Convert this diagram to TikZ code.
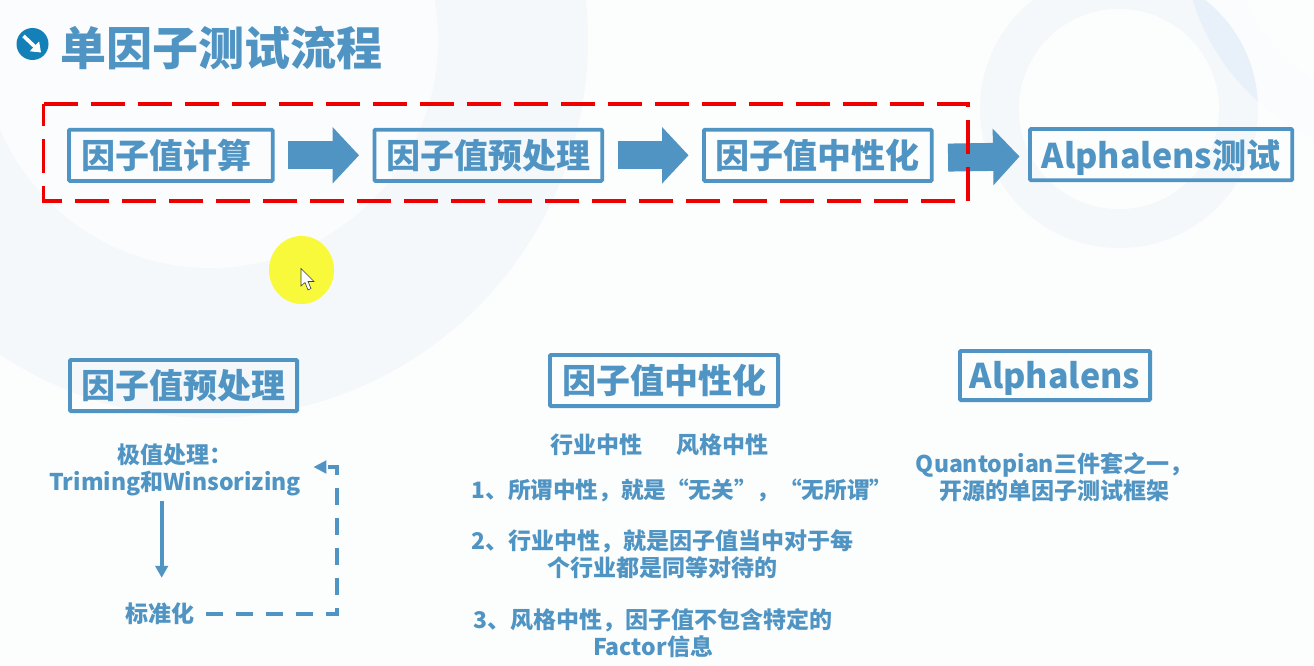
\documentclass[tikz,border=0pt]{standalone}
\usepackage{xcolor}
\usepackage{fontspec}
\setmainfont{Noto Sans CJK SC}
\usepackage{tikz}
\usetikzlibrary{shapes,arrows.meta,positioning}

\definecolor{slideblue}{HTML}{4F94C3}
\definecolor{iconblue}{HTML}{1380B8}
\definecolor{framered}{HTML}{EE0000}
\definecolor{pagebg}{HTML}{FCFDFD}
\definecolor{ringbg}{HTML}{F5F8FB}
\definecolor{innerbg}{HTML}{FBFCFD}
\definecolor{lensbg}{HTML}{E8F0FA}
\definecolor{markyellow}{HTML}{F9F93C}

\begin{document}
\begin{tikzpicture}[x=1pt, y=-1pt, node distance=98pt]
    % Define styles
    \tikzstyle{stepbox} = [rectangle, rounded corners=1pt, draw=slideblue, line width=3.8pt, text=slideblue, inner sep=0pt, minimum height=51.2pt, text centered, font=\fontsize{34}{40}\selectfont\bfseries]
    \tikzstyle{bodytext} = [text=slideblue, inner sep=0pt, align=center, font=\fontsize{23}{27}\selectfont\bfseries]
    \tikzstyle{blockarrow} = [draw=slideblue, line width=28pt, -{Triangle[length=26.5pt,width=55pt]}, shorten <=13.5pt, shorten >=13.5pt]

    \useasboundingbox (0,0) rectangle (1314,666);
    \clip (0,0) rectangle (1314,666);

    % Background
    \fill[pagebg] (0,0) rectangle (1314,666);
    \fill[ringbg] (210,40) circle [radius=378pt];
    \fill[innerbg] (210,40) circle [radius=228pt];
    \fill[ringbg] (1119,109) circle [radius=139pt];
    \fill[pagebg] (1119,109) circle [radius=100pt];
    \fill[innerbg, even odd rule] (1405,-65) circle [radius=222pt] (1405,-65) circle [radius=172pt];
    \begin{scope}
        \clip (1119,109) circle [radius=139pt];
        \fill[lensbg, even odd rule] (1405,-65) circle [radius=222pt] (1405,-65) circle [radius=172pt];
        \fill[pagebg] (1119,109) circle [radius=100pt];
    \end{scope}

    % Nodes
    \node[circle, fill=iconblue, minimum size=32pt, inner sep=0pt] (titleicon) at (32.5,44) {};
    \node[text=slideblue, anchor=west, inner sep=0pt, font=\fontsize{46}{50}\selectfont\bfseries] (title) at (60,48) {单因子测试流程};

    \node[stepbox, minimum width=203.7pt] (calc) at (170.8,155.3) {\hspace*{-9pt}因子值计算};
    \node[stepbox, minimum width=227.7pt, right=of calc] (prep) {因子值预处理};
    \node[stepbox, minimum width=227.8pt, right=of prep] (neutral) {因子值中性化};
    \node[stepbox, minimum width=262.2pt, right=94.4pt of neutral, yshift=0.7pt, text height=34pt, text depth=7pt] (alpha) {Alphalens测试};

    \coordinate (frameNW) at (43.7,104);
    \coordinate (frameNE) at (968,104);
    \coordinate (frameSE) at (968,201);
    \coordinate (frameSW) at (43.7,201);

    \node[stepbox, minimum width=227.2pt] (prephead) at (183.5,385.5) {因子值预处理};
    \node[bodytext] (trim) at (175,469.5) {极值处理：\\Triming和Winsorizing};
    \node[bodytext] (std) at (159.5,614) {标准化};
    \coordinate (loopcorner) at (337,467);

    \node[stepbox, minimum width=228.2pt] (neuthead) at (664,380.5) {因子值中性化};
    \node[bodytext] (industry) at (596.5,445) {行业中性};
    \node[bodytext] (style) at (722,445) {风格中性};
    \node[bodytext, font=\fontsize{22.6}{27}\selectfont\bfseries] (noteone) at (682,490) {1、所谓中性，就是“无关”，“无所谓”};
    \node[bodytext] (notetwo) at (662.5,554.5) {2、行业中性，就是因子值当中对于每\\个行业都是同等对待的};
    \node[bodytext] (notethree) at (653,633.5) {3、风格中性，因子值不包含特定的\\Factor信息};

    \node[stepbox, minimum width=190.2pt, minimum height=49.2pt, text height=32pt, text depth=7pt] (alphahead) at (1055,375.5) {Alphalens};
    \node[bodytext] (quanto) at (1054,477.5) {Quantopian三件套之一，\\开源的单因子测试框架};

    \node[ellipse, fill=markyellow, minimum width=65pt, minimum height=68pt, inner sep=0pt] (pointer) at (301.5,270) {};

    % Connections
    \draw[white, line width=3.6pt, -{Triangle[length=9pt,width=13pt]}] (23.5,36) -- (41,52.5);
    \draw[blockarrow] (calc) -- (prep);
    \draw[blockarrow] (prep) -- (neutral);
    \draw[blockarrow, shorten <=14.4pt, shorten >=8.5pt] ([yshift=-2.5pt]neutral.east) -- ([yshift=-1.8pt]alpha.west);
    \draw[framered, line width=3.5pt, dash pattern=on 34pt off 13pt, line join=miter] (frameNW) -- (frameNE) -- (frameSE) -- (frameSW) -- cycle;

    \draw[slideblue, line width=3.8pt, -{Triangle[length=12pt,width=12.5pt]}] ([xshift=-13.3pt,yshift=-5pt]trim.south) -- ([xshift=2.2pt,yshift=25pt]std.north);
    \draw[slideblue, line width=3.8pt, dash pattern=on 17pt off 13pt, -{Triangle[length=13pt,width=12.5pt]}, shorten <=12pt, shorten >=12.5pt] (std.east) -| (loopcorner) -- ([yshift=2.5pt]trim.east);

    \draw[black!75, fill=white, line width=0.6pt] (301,268.5) -- (301,286) -- (305,282.5) -- (308,290) -- (311,288.5) -- (308,281.5) -- (314,281.5) -- cycle;
\end{tikzpicture}
\end{document}
